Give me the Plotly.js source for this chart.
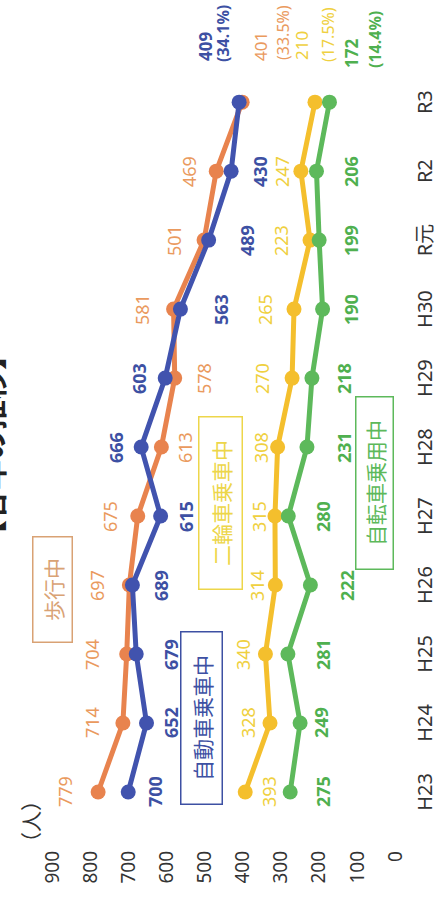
<!DOCTYPE html>
<html>
<head>
<meta charset="utf-8">
<script src="https://cdn.plot.ly/plotly-3.0.1.min.js"></script>
<style>
  html, body { margin:0; padding:0; background:#fff; overflow:hidden; width:444px; height:898px; }
  #wrap { position:absolute; left:0; top:0; width:898px; height:444px;
          transform-origin:0 0; transform:translateY(898px) rotate(-90deg); }
</style>
</head>
<body>
<div id="wrap"></div>
<script>
// ---- data ----
const categories = ['H23','H24','H25','H26','H27','H28','H29','H30','R元','R2','R3'];
const walking    = [779, 714, 704, 697, 675, 613, 578, 581, 501, 469, 401];
const carOccupant= [700, 652, 679, 689, 615, 666, 603, 563, 489, 430, 409];
const motorcycle = [393, 328, 340, 314, 315, 308, 270, 265, 223, 247, 210];
const bicycle    = [275, 249, 281, 222, 280, 231, 218, 190, 199, 206, 172];
const seriesNames = ['歩行中', '自動車乗車中', '二輪車乗車中', '自転車乗用中'];
const sharesR3   = ['(33.5%)', '(34.1%)', '(17.5%)', '(14.4%)'];
const yTicks     = [0, 100, 200, 300, 400, 500, 600, 700, 800, 900];

// ---- label placement (styling) ----
const walkShift = [33, 31, 35, 32, 28, -24, -29, 32, 30, 27];
const carShift  = [-27, -24, -35, -29, -25, 25, 26, -41, -38, -29];
const motoShift = [-24, 22, 22, 18, 16, 17, 30, 29, 29, 19];
const bikeShift = [-33, -21, -35, -37, -35, -37, -32, -28, -32, -35];

const FONT = 'Noto Sans, Noto Sans CJK JP, sans-serif';
const JP = 'Noto Sans CJK JP, Noto Sans, sans-serif';

const series = [
  {values: walking,     line:'#E8834E', txt:'#EA9A5E', bold:false, shifts: walkShift,
   r3:{v:[-18, 39], p:[-41, 40]}},
  {values: carOccupant, line:'#4153AE', txt:'#3D50A3', bold:true,  shifts: carShift,
   r3:{v:[34, 39], p:[16, 38]}},
  {values: motorcycle,  line:'#F4BF2D', txt:'#EFD040', bold:false, shifts: motoShift,
   r3:{v:[13, 40], p:[-13, 38]}},
  {values: bicycle,     line:'#5DB95B', txt:'#4FB04F', bold:true,  shifts: bikeShift,
   r3:{v:[-22, 32], p:[-46, 32]}}
];

const traces = series.map((s, i) => ({
  type:'scatter', mode:'lines+markers', name: seriesNames[i],
  x: categories, y: s.values,
  line:{color:s.line, width:5},
  marker:{color:s.line, size:15},
  cliponaxis:false, hoverinfo:'skip'
}));

const annotations = [];
series.forEach((s, i) => {
  const last = categories.length - 1;
  s.values.forEach((v, j) => {
    if (j === last) return;
    annotations.push({
      x: categories[j], y: v, xref:'x', yref:'y', showarrow:false,
      text: s.bold ? '<b>' + v + '</b>' : String(v),
      yshift: s.shifts[j],
      font:{family:FONT, size:18, color:s.txt}
    });
  });
  const v = s.values[last];
  annotations.push({
    x: categories[last], y: v, xref:'x', yref:'y', showarrow:false,
    xanchor:'left', xshift:s.r3.v[1], yshift:s.r3.v[0],
    text: s.bold ? '<b>' + v + '</b>' : String(v),
    font:{family:FONT, size:17, color:s.txt}
  });
  annotations.push({
    x: categories[last], y: v, xref:'x', yref:'y', showarrow:false,
    xanchor:'left', xshift:s.r3.p[1], yshift:s.r3.p[0],
    text: s.bold ? '<b>' + sharesR3[i] + '</b>' : sharesR3[i],
    font:{family:FONT, size:16, color:s.txt}
  });
});

// legend-like labelled boxes
const boxes = [
  {name:seriesNames[0], ox:308, oy:53,  w:104, h:38, col:'#D9A274'},
  {name:seriesNames[1], ox:180, oy:201, w:171, h:40, col:'#3D50A3'},
  {name:seriesNames[2], ox:395, oy:220, w:171, h:42, col:'#EDD64A'},
  {name:seriesNames[3], ox:415, oy:374, w:171, h:36, col:'#5DB95B'}
];
const L = 50, R = 38, T = 52, B = 49, W = 898, H = 444;
const pw = W - L - R, ph = H - T - B;
boxes.forEach(b => {
  annotations.push({
    xref:'paper', yref:'paper', x:(b.ox - L)/pw, y:(H - B - b.oy)/ph,
    xanchor:'center', yanchor:'middle', showarrow:false,
    text:b.name, width:b.w, height:b.h, borderpad:0,
    bordercolor:b.col, borderwidth:1.5, bgcolor:'rgba(255,255,255,0)',
    font:{family:JP, size:21, color:b.col}
  });
});

// unit
annotations.push({
  xref:'paper', yref:'paper', x:(76 - L)/pw, y:(H - B - 30)/ph,
  xanchor:'center', yanchor:'middle', showarrow:false,
  text:'（人）', font:{family:JP, size:21, color:'#333'}
});
// title (mostly cut off at the top edge)
annotations.push({
  xref:'paper', yref:'paper', x:(453 - L)/pw, y:(H - B + 10)/ph,
  xanchor:'center', yanchor:'middle', showarrow:false,
  text:'<b>【各年の推移】</b>', font:{family:JP, size:30, color:'#222'}
});

const layout = {
  width:W, height:H,
  margin:{l:L, r:R, t:T, b:B, pad:0},
  paper_bgcolor:'#fff', plot_bgcolor:'#fff',
  showlegend:false,
  xaxis:{type:'category', categoryarray:categories, range:[-0.812, 10.93],
         showgrid:false, zeroline:false, showline:false, ticks:'',
         tickfont:{family:FONT, size:20, color:'#333'}, ticklabelstandoff:16,
         automargin:false, fixedrange:true},
  yaxis:{range:[0, 900], tickvals:yTicks, ticktext:yTicks.map(String),
         showgrid:false, zeroline:false, showline:false, ticks:'',
         tickfont:{family:FONT, size:19, color:'#333'}, ticklabelstandoff:2,
         automargin:false, fixedrange:true},
  annotations: annotations
};

Plotly.newPlot('wrap', traces, layout, {staticPlot:true, displayModeBar:false});
</script>
</body>
</html>
